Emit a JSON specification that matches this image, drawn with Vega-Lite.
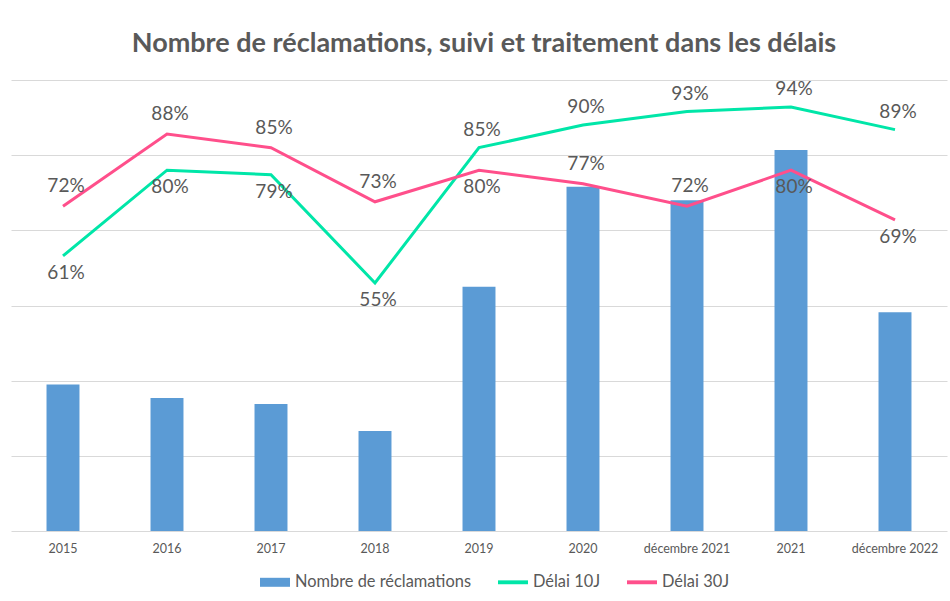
{
  "$schema": "https://vega.github.io/schema/vega-lite/v6.json",
  "width": 936,
  "height": 451,
  "autosize": {"type": "none"},
  "padding": {"left": 11, "top": 80, "right": 3, "bottom": 70},
  "background": "white",
  "config": {
    "font": "Lato",
    "view": {"stroke": null},
    "axis": {"labelColor": "#595959", "titleColor": "#595959"}
  },
  "title": {
    "text": "Nombre de réclamations, suivi et traitement dans les délais",
    "fontSize": 27,
    "font": "Lato",
    "fontWeight": "bold",
    "color": "#595959",
    "anchor": "middle",
    "offset": 22,
    "dx": 5
  },
  "data": {
    "values": [
      {"annee": "2015", "Nombre de réclamations": 195, "Délai 10J": 0.61, "Délai 30J": 0.72},
      {"annee": "2016", "Nombre de réclamations": 177, "Délai 10J": 0.80, "Délai 30J": 0.88},
      {"annee": "2017", "Nombre de réclamations": 169, "Délai 10J": 0.79, "Délai 30J": 0.85},
      {"annee": "2018", "Nombre de réclamations": 133, "Délai 10J": 0.55, "Délai 30J": 0.73},
      {"annee": "2019", "Nombre de réclamations": 325, "Délai 10J": 0.85, "Délai 30J": 0.80},
      {"annee": "2020", "Nombre de réclamations": 458, "Délai 10J": 0.90, "Délai 30J": 0.77},
      {"annee": "décembre 2021", "Nombre de réclamations": 440, "Délai 10J": 0.93, "Délai 30J": 0.72},
      {"annee": "2021", "Nombre de réclamations": 507, "Délai 10J": 0.94, "Délai 30J": 0.80},
      {"annee": "décembre 2022", "Nombre de réclamations": 291, "Délai 10J": 0.89, "Délai 30J": 0.69}
    ]
  },
  "encoding": {
    "x": {
      "field": "annee",
      "type": "nominal",
      "sort": null,
      "scale": {"paddingInner": 0.683, "paddingOuter": 0.3415},
      "axis": {
        "title": null,
        "labelAngle": 0,
        "labelFontSize": 12.5,
        "labelColor": "#595959",
        "labelPadding": 11,
        "ticks": false,
        "domain": false,
        "grid": false
      }
    }
  },
  "layer": [
    {
      "mark": {"type": "bar", "color": "#5B9BD5"},
      "encoding": {
        "y": {
          "field": "Nombre de réclamations",
          "type": "quantitative",
          "scale": {"domain": [0, 600], "nice": false},
          "axis": {
            "title": null,
            "labels": false,
            "ticks": false,
            "domain": false,
            "grid": true,
            "gridColor": "#D9D9D9",
            "gridWidth": 1,
            "values": [0, 100, 200, 300, 400, 500, 600]
          }
        }
      }
    },
    {
      "layer": [
        {
          "mark": {"type": "line", "color": "#00E6A8", "strokeWidth": 3},
          "encoding": {"y": {"field": "Délai 10J", "type": "quantitative"}}
        },
        {
          "mark": {"type": "line", "color": "#FF4F8B", "strokeWidth": 3},
          "encoding": {"y": {"field": "Délai 30J", "type": "quantitative"}}
        },
        {
          "transform": [{"filter": {"field": "annee", "oneOf": ["2019", "2020", "décembre 2021", "2021", "décembre 2022"]}}],
          "mark": {"type": "text", "fontSize": 19, "color": "#595959", "baseline": "middle", "dy": -18, "dx": 3},
          "encoding": {
            "y": {"field": "Délai 10J", "type": "quantitative"},
            "text": {"field": "Délai 10J", "format": ".0%"}
          }
        },
        {
          "transform": [{"filter": {"field": "annee", "oneOf": ["2015", "2016", "2017", "2018"]}}],
          "mark": {"type": "text", "fontSize": 19, "color": "#595959", "baseline": "middle", "dy": 17, "dx": 3},
          "encoding": {
            "y": {"field": "Délai 10J", "type": "quantitative"},
            "text": {"field": "Délai 10J", "format": ".0%"}
          }
        },
        {
          "transform": [{"filter": {"field": "annee", "oneOf": ["2015", "2016", "2017", "2018", "2020", "décembre 2021"]}}],
          "mark": {"type": "text", "fontSize": 19, "color": "#595959", "baseline": "middle", "dy": -20, "dx": 3},
          "encoding": {
            "y": {"field": "Délai 30J", "type": "quantitative"},
            "text": {"field": "Délai 30J", "format": ".0%"}
          }
        },
        {
          "transform": [{"filter": {"field": "annee", "oneOf": ["2019", "2021", "décembre 2022"]}}],
          "mark": {"type": "text", "fontSize": 19, "color": "#595959", "baseline": "middle", "dy": 17, "dx": 3},
          "encoding": {
            "y": {"field": "Délai 30J", "type": "quantitative"},
            "text": {"field": "Délai 30J", "format": ".0%"}
          }
        }
      ],
      "encoding": {
        "y": {
          "type": "quantitative",
          "scale": {"domain": [0, 1], "nice": false},
          "axis": null
        }
      }
    },
    {
      "transform": [{"fold": ["Nombre de réclamations", "Délai 10J", "Délai 30J"], "as": ["serie", "valeur"]}],
      "mark": {"type": "point", "filled": true, "opacity": 0},
      "encoding": {
        "color": {
          "field": "serie",
          "type": "nominal",
          "scale": {
            "domain": ["Nombre de réclamations", "Délai 10J", "Délai 30J"],
            "range": ["#5B9BD5", "#00E6A8", "#FF4F8B"]
          },
          "legend": {
            "orient": "none",
            "legendX": 249,
            "legendY": 487,
            "direction": "horizontal",
            "title": null,
            "labelFontSize": 16.4,
            "labelColor": "#595959",
            "labelLimit": 400,
            "symbolSize": 900,
            "symbolOpacity": 1,
            "symbolStrokeWidth": 0,
            "labelOffset": 5,
            "columnPadding": 26,
            "encode": {"symbols": {"update": {"opacity": {"value": 1}, "fillOpacity": {"value": 1}}}}
          }
        },
        "shape": {
          "field": "serie",
          "type": "nominal",
          "scale": {
            "domain": ["Nombre de réclamations", "Délai 10J", "Délai 30J"],
            "range": ["M-1,-0.3H1V0.3H-1Z", "M-1,-0.13H1V0.13H-1Z", "M-1,-0.13H1V0.13H-1Z"]
          },
          "legend": {
            "orient": "none",
            "legendX": 249,
            "legendY": 487,
            "direction": "horizontal",
            "title": null
          }
        }
      }
    }
  ],
  "resolve": {"scale": {"y": "independent"}}
}
